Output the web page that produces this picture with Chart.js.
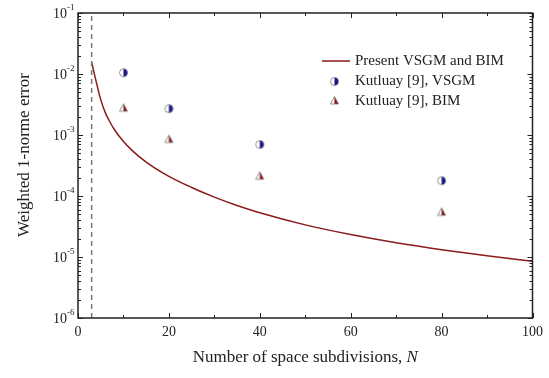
<!DOCTYPE html>
<html>
<head>
<meta charset="utf-8">
<script src="https://cdn.jsdelivr.net/npm/chart.js@4"></script>
<style>
  html, body { margin: 0; padding: 0; background: #fff; }
  #wrap { width: 549px; height: 378px; }
</style>
</head>
<body>
<div id="wrap"><canvas id="errChart" width="549" height="378"></canvas></div>
<script>
// Present VSGM and BIM curve
const curveN = [3, 4, 5, 6, 7, 8, 10, 12, 15, 20, 25, 30, 35, 40, 50, 60, 70, 80, 90, 100];
const curveErr = [1.55e-2, 7.5e-3, 3.8e-3, 2.33e-3, 1.65e-3, 1.23e-3, 7.8e-4, 5.5e-4, 3.6e-4, 2.1e-4,
                  1.38e-4, 9.6e-5, 7.0e-5, 5.3e-5, 3.36e-5, 2.33e-5, 1.71e-5, 1.32e-5, 1.05e-5, 8.5e-6];

// Kutluay [9] reference values
const refN = [10, 20, 40, 80];
const vsgmErr = [1.05e-2, 2.7e-3, 7.0e-4, 1.78e-4];
const bimErr = [2.8e-3, 8.6e-4, 2.15e-4, 5.5e-5];

// vertical dashed marker
const dashN = 3;

// axes
const xMajor = [0, 20, 40, 60, 80, 100];
const xMinor = [10, 30, 50, 70, 90];
const yExponents = [-6, -5, -4, -3, -2, -1];

const legendLabels = ['Present VSGM and BIM', 'Kutluay [9], VSGM', 'Kutluay [9], BIM'];

const serif = '"Liberation Serif", "DejaVu Serif", serif';

function halfCircle(fill) {
    const c = document.createElement('canvas');
    c.width = 11; c.height = 11;
    const g = c.getContext('2d');
    g.beginPath(); g.arc(5.5, 5.5, 4, 0, Math.PI * 2);
    g.fillStyle = '#fff'; g.fill();
    g.beginPath(); g.arc(5.5, 5.5, 4, -Math.PI / 2, Math.PI / 2);
    g.closePath(); g.fillStyle = fill; g.fill();
    g.beginPath(); g.arc(5.5, 5.5, 4, 0, Math.PI * 2);
    g.strokeStyle = '#777'; g.lineWidth = 0.8; g.stroke();
    return c;
}

function halfTriangle(fill) {
    const c = document.createElement('canvas');
    c.width = 11; c.height = 11;
    const g = c.getContext('2d');
    g.beginPath(); g.moveTo(5.5, 1.5); g.lineTo(9.5, 9); g.lineTo(1.5, 9); g.closePath();
    g.fillStyle = '#fff'; g.fill();
    g.beginPath(); g.moveTo(5.5, 1.5); g.lineTo(9.5, 9); g.lineTo(5.5, 9); g.closePath();
    g.fillStyle = fill; g.fill();
    g.beginPath(); g.moveTo(5.5, 1.5); g.lineTo(9.5, 9); g.lineTo(1.5, 9); g.closePath();
    g.strokeStyle = '#777'; g.lineWidth = 0.8; g.stroke();
    return c;
}

const circleImg = halfCircle('#14148c');
const triImg = halfTriangle('#8c1010');

const framePlugin = {
    id: 'frame',
    afterDraw(chart) {
        const ctx = chart.ctx;
        const a = chart.chartArea;
        const xs = chart.scales.x, ys = chart.scales.y;
        ctx.save();
        ctx.strokeStyle = '#222';
        ctx.lineWidth = 1.5;
        ctx.strokeRect(a.left, a.top, a.right - a.left, a.bottom - a.top);

        // x ticks, inward, bottom and top
        ctx.lineWidth = 1;
        ctx.beginPath();
        xMajor.concat(xMinor).forEach(v => {
            const len = xMajor.includes(v) ? 5 : 3;
            const px = Math.round(xs.getPixelForValue(v)) + 0.5;
            ctx.moveTo(px, a.bottom); ctx.lineTo(px, a.bottom - len);
            ctx.moveTo(px, a.top); ctx.lineTo(px, a.top + len);
        });
        // y ticks, inward, left and right
        yExponents.forEach(e => {
            for (let m = 1; m <= 9; m++) {
                if (e === -1 && m > 1) break;
                const py = Math.round(ys.getPixelForValue(m * Math.pow(10, e))) + 0.5;
                const len = m === 1 ? 5 : 3;
                ctx.moveTo(a.left, py); ctx.lineTo(a.left + len, py);
                ctx.moveTo(a.right, py); ctx.lineTo(a.right - len, py);
            }
        });
        ctx.stroke();

        // y tick labels 10^e
        ctx.fillStyle = '#222';
        ctx.textBaseline = 'middle';
        yExponents.forEach(e => {
            const py = ys.getPixelForValue(Math.pow(10, e));
            ctx.font = '14px ' + serif;
            ctx.textAlign = 'left';
            ctx.fillText('10', 53, py + 1);
            ctx.font = '9px ' + serif;
            ctx.fillText(String(e), 67, py - 5);
        });

        // y axis title
        ctx.save();
        ctx.translate(25, 155);
        ctx.rotate(-Math.PI / 2);
        ctx.textAlign = 'center';
        ctx.font = '17px ' + serif;
        ctx.fillText('Weighted 1-norme error', 0, 0);
        ctx.restore();

        // x axis title with italic N
        ctx.font = '17px ' + serif;
        const t1 = 'Number of space subdivisions, ';
        const w1 = ctx.measureText(t1).width;
        ctx.font = 'italic 17px ' + serif;
        const w2 = ctx.measureText('N').width;
        let x0 = (a.left + a.right) / 2 - (w1 + w2) / 2;
        ctx.textAlign = 'left';
        ctx.font = '17px ' + serif;
        ctx.fillText(t1, x0, 358);
        ctx.font = 'italic 17px ' + serif;
        ctx.fillText('N', x0 + w1, 358);

        // legend
        ctx.font = '15px ' + serif;
        ctx.strokeStyle = '#8b1a1a';
        ctx.lineWidth = 1.5;
        ctx.beginPath(); ctx.moveTo(322, 61); ctx.lineTo(350, 61); ctx.stroke();
        ctx.drawImage(circleImg, 329, 76);
        ctx.drawImage(triImg, 329, 95);
        legendLabels.forEach((s, i) => ctx.fillText(s, 355, 61 + i * 20));
        ctx.restore();
    }
};

const ctx = document.getElementById('errChart').getContext('2d');
new Chart(ctx, {
    type: 'scatter',
    data: {
        datasets: [
            {
                data: [{x: dashN, y: 1e-6}, {x: dashN, y: 1e-1}],
                showLine: true,
                borderColor: '#777',
                borderWidth: 1.5,
                borderDash: [5, 4],
                pointRadius: 0
            },
            {
                data: curveN.map((n, i) => ({x: n, y: curveErr[i]})),
                showLine: true,
                borderColor: '#8b1a1a',
                borderWidth: 1.5,
                cubicInterpolationMode: 'monotone',
                pointRadius: 0
            },
            {
                data: refN.map((n, i) => ({x: n, y: vsgmErr[i]})),
                pointStyle: circleImg
            },
            {
                data: refN.map((n, i) => ({x: n, y: bimErr[i]})),
                pointStyle: triImg
            }
        ]
    },
    options: {
        responsive: false,
        animation: false,
        layout: { padding: { left: 0, right: 11, top: 13, bottom: 0 } },
        plugins: { legend: { display: false }, tooltip: { enabled: false } },
        scales: {
            x: {
                type: 'linear',
                min: 0, max: 100,
                grid: { display: false, drawTicks: false },
                border: { display: false },
                ticks: {
                    stepSize: 20,
                    padding: 6,
                    color: '#222',
                    font: { family: serif, size: 14 }
                },
                afterFit: s => { s.height = 60; }
            },
            y: {
                type: 'logarithmic',
                min: 1e-6, max: 1e-1,
                grid: { display: false, drawTicks: false },
                border: { display: false },
                ticks: { display: false },
                afterFit: s => { s.width = 78; }
            }
        }
    },
    plugins: [framePlugin]
});
</script>
</body>
</html>
